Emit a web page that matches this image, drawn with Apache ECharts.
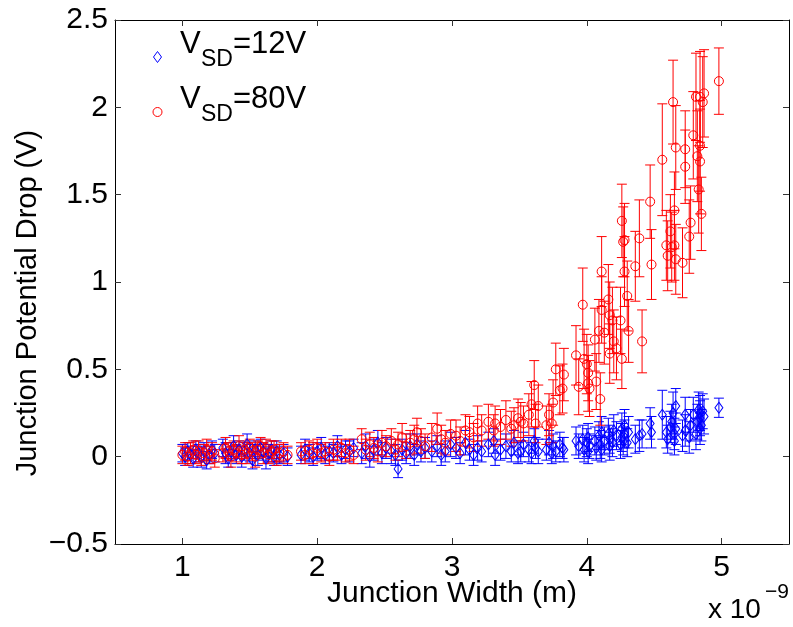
<!DOCTYPE html>
<html><head><meta charset="utf-8">
<script src="https://cdn.jsdelivr.net/npm/echarts@6/dist/echarts.min.js"></script>
<style>html,body{margin:0;padding:0;background:#fff}#c{width:793px;height:627px}</style>
</head><body><div id="c"></div>
<script>
// Junction width (x 1e-9 m), shared by both bias voltages
const width = [
  1.00,1.02,1.04,1.06,1.08,1.10,1.12,1.14,1.16,1.18,1.20,1.22,1.24,
  1.30,1.32,1.34,1.36,1.38,1.40,1.42,1.44,1.46,1.48,1.50,1.52,1.54,1.56,1.58,1.60,1.62,1.64,1.66,1.68,1.70,1.72,1.75,1.78,
  1.88,1.91,1.94,1.97,2.00,2.03,2.06,2.09,2.12,2.15,2.18,2.21,2.24,2.27,
  2.33,2.36,2.39,2.42,2.45,2.48,2.51,2.55,2.58,2.60,2.63,2.66,2.69,2.72,2.74,2.77,2.80,
  2.85,2.89,2.92,2.95,2.99,3.03,3.06,3.10,3.13,3.16,3.19,3.22,3.27,3.31,3.32,3.36,3.40,3.44,3.46,3.49,
  3.51,3.53,3.57,3.59,3.61,3.62,3.64,3.70,3.72,3.74,3.75,3.77,3.80,3.82,3.83,
  3.92,3.94,3.97,3.98,4.00,4.01,4.01,4.02,4.06,4.07,4.09,4.10,4.11,4.11,4.13,4.16,4.17,4.17,4.19,4.20,4.22,4.25,4.26,4.26,4.27,4.28,4.28,4.30,4.31,
  4.36,4.39,4.41,4.47,4.48,4.56,4.59,4.60,4.62,4.63,4.64,4.65,4.65,4.66,4.66,4.71,4.73,4.73,4.76,4.77,4.79,4.81,4.82,4.83,4.84,4.84,4.84,4.85,4.86,4.87,4.98
];
// V_SD = 12 V : potential drop (V) and error half-length (V)
const drop12 = [
  0.02,0.00,0.03,0.01,-0.01,0.04,0.02,0.00,0.03,-0.02,0.01,0.04,0.02,
  0.05,0.02,-0.01,0.03,0.06,0.01,0.04,0.00,0.03,0.07,0.02,-0.02,0.04,0.01,0.05,0.03,-0.01,0.02,0.04,0.00,0.03,0.01,0.02,0.00,
  0.01,0.04,0.02,0.00,0.03,0.05,0.01,0.03,0.02,0.06,0.01,0.04,0.03,0.05,
  0.02,0.06,0.00,0.04,0.08,0.02,0.05,0.03,0.01,-0.07,0.04,0.02,0.06,0.01,0.07,0.03,0.05,
  0.03,0.06,0.01,0.03,0.07,0.05,0.02,0.08,0.04,0.01,0.05,0.03,0.07,0.09,0.01,0.04,0.06,0.03,0.08,0.02,
  0.03,0.07,0.04,0.02,0.09,0.05,0.03,0.04,0.08,0.02,0.06,0.03,0.07,0.05,0.04,
  0.09,0.06,0.10,0.04,0.08,0.03,0.11,0.06,0.09,0.05,0.12,0.07,0.14,0.04,0.09,0.13,0.06,0.10,0.08,0.15,0.12,0.07,0.11,0.16,0.09,0.18,0.13,0.08,0.14,
  0.10,0.12,0.13,0.19,0.14,0.24,0.14,0.10,0.17,0.20,0.25,0.13,0.09,0.29,0.16,0.12,0.24,0.15,0.11,0.18,0.24,0.13,0.20,0.27,0.16,0.22,0.25,0.18,0.26,0.23,0.28
];
const err12 = [
  0.05,0.05,0.05,0.05,0.05,0.05,0.05,0.06,0.05,0.05,0.05,0.05,0.05,
  0.05,0.06,0.05,0.05,0.06,0.05,0.05,0.06,0.05,0.06,0.05,0.05,0.05,0.06,0.05,0.05,0.06,0.05,0.05,0.05,0.06,0.05,0.05,0.05,
  0.05,0.06,0.05,0.05,0.05,0.06,0.05,0.05,0.05,0.06,0.05,0.05,0.06,0.05,
  0.06,0.07,0.06,0.06,0.07,0.06,0.06,0.07,0.06,0.05,0.06,0.06,0.07,0.06,0.06,0.06,0.06,
  0.06,0.06,0.06,0.06,0.07,0.06,0.06,0.07,0.06,0.06,0.07,0.06,0.07,0.07,0.06,0.06,0.07,0.06,0.07,0.06,
  0.06,0.07,0.07,0.06,0.07,0.06,0.07,0.06,0.07,0.06,0.07,0.06,0.07,0.06,0.07,
  0.08,0.07,0.08,0.07,0.08,0.07,0.08,0.07,0.08,0.07,0.08,0.08,0.09,0.07,0.08,0.09,0.08,0.08,0.08,0.09,0.08,0.08,0.08,0.09,0.08,0.09,0.08,0.08,0.09,
  0.08,0.09,0.08,0.09,0.09,0.14,0.09,0.08,0.09,0.10,0.12,0.09,0.08,0.10,0.09,0.09,0.10,0.09,0.09,0.09,0.10,0.09,0.10,0.10,0.09,0.10,0.10,0.09,0.10,0.10,0.055
];
// V_SD = 80 V : potential drop (V) and error half-length (V)
const drop80 = [
  0.01,0.03,0.00,0.02,0.04,0.01,0.03,0.00,0.02,0.04,0.01,0.03,-0.01,
  0.02,0.05,0.03,0.00,0.04,0.02,0.06,0.01,0.04,0.02,0.05,0.03,0.00,0.04,0.06,0.02,0.05,0.01,0.03,0.04,0.00,0.02,0.03,0.01,
  0.03,0.01,0.04,0.02,0.05,0.02,0.03,0.00,0.04,0.03,0.05,0.02,0.04,0.01,
  0.10,0.04,0.07,0.05,0.03,0.08,0.06,0.09,0.04,0.07,0.11,0.06,0.08,0.10,0.14,0.09,0.06,
  0.11,0.16,0.10,0.08,0.13,0.12,0.09,0.15,0.14,0.11,0.19,0.15,0.20,0.15,0.19,0.17,0.21,0.16,0.18,0.22,
  0.20,0.19,0.24,0.30,0.41,0.19,0.29,0.18,0.24,0.19,0.31,0.50,0.38,0.39,0.47,
  0.58,0.40,0.87,0.56,0.53,0.48,0.42,0.39,0.67,0.43,0.72,0.33,1.06,0.84,0.71,0.90,0.81,0.59,0.78,0.66,0.62,0.78,1.35,0.56,1.23,1.06,1.24,0.92,0.72,
  1.09,1.25,0.66,1.46,1.10,1.70,1.21,1.15,1.29,1.20,2.03,1.41,1.21,1.77,1.13,1.11,1.76,1.66,1.26,1.34,1.84,2.06,1.72,1.53,2.06,1.78,1.69,1.39,2.03,2.08,2.15
];
const err80 = [
  0.05,0.05,0.05,0.06,0.05,0.05,0.06,0.05,0.05,0.06,0.05,0.05,0.05,
  0.05,0.06,0.05,0.06,0.05,0.05,0.06,0.05,0.05,0.06,0.05,0.05,0.06,0.05,0.05,0.06,0.05,0.05,0.06,0.05,0.05,0.05,0.05,0.05,
  0.05,0.05,0.05,0.06,0.05,0.05,0.05,0.05,0.06,0.05,0.05,0.05,0.06,0.05,
  0.06,0.06,0.07,0.06,0.06,0.07,0.06,0.07,0.06,0.07,0.08,0.07,0.07,0.08,0.08,0.07,0.07,
  0.08,0.09,0.08,0.07,0.08,0.09,0.08,0.09,0.09,0.08,0.10,0.09,0.10,0.09,0.10,0.10,0.11,0.10,0.10,0.11,
  0.11,0.10,0.12,0.13,0.14,0.11,0.12,0.11,0.12,0.11,0.13,0.15,0.14,0.14,0.15,
  0.17,0.16,0.21,0.17,0.17,0.16,0.16,0.16,0.18,0.16,0.18,0.15,0.20,0.19,0.18,0.20,0.19,0.17,0.19,0.18,0.18,0.19,0.21,0.17,0.20,0.20,0.21,0.20,0.18,
  0.20,0.22,0.18,0.21,0.20,0.32,0.20,0.20,0.21,0.20,0.24,0.22,0.20,0.24,0.20,0.20,0.22,0.21,0.21,0.21,0.25,0.25,0.26,0.25,0.26,0.26,0.30,0.21,0.26,0.25,0.19
];
const xTicks = [1, 2, 3, 4, 5];
const seriesNames = ['V_SD=12V', 'V_SD=80V'];
const legendValues = ['=12V', '=80V'];
const yTitle = 'Junction Potential Drop (V)';
const xTitle = 'Junction Width (m)';

const FONT = '"Liberation Sans", Arial, Helvetica, sans-serif';
const BLUE = '#0000ff', RED = '#ff0000';

function rows(y, e) { return width.map((w, i) => [w, y[i], e[i]]); }
function errorRender(color) {
  return function (params, api) {
    const x = api.value(0), y = api.value(1), e = api.value(2);
    const t = api.coord([x, y + e]), b = api.coord([x, y - e]);
    const c = 5;
    const style = { stroke: color, lineWidth: 1, fill: null };
    return { type: 'group', children: [
      { type: 'line', shape: { x1: t[0], y1: t[1], x2: b[0], y2: b[1] }, style },
      { type: 'line', shape: { x1: t[0] - c, y1: t[1], x2: t[0] + c, y2: t[1] }, style },
      { type: 'line', shape: { x1: b[0] - c, y1: b[1], x2: b[0] + c, y2: b[1] }, style }
    ]};
  };
}
const fmtY = v => (v < 0 ? '\u2212' + Math.abs(v) : String(v));

// legend drawn as graphic: V with subscript SD, then value
function legendRow(i, marker) {
  const dy = i * 55;
  const txt = (t, x, y, size) => ({ type: 'text', x: x, y: y + dy,
    style: { text: t, font: size + 'px ' + FONT, fill: '#000', align: 'left', verticalAlign: 'middle' } });
  return [marker, txt('V', 180, 44, 31), txt('SD', 201, 60, 23), txt(legendValues[i], 233, 44, 31)];
}

const axisCommon = {
  axisLine: { show: true, onZero: false, lineStyle: { color: '#000', width: 1 } },
  splitLine: { show: false }
};

const chart = echarts.init(document.getElementById('c'), null, { renderer: 'canvas' });
chart.setOption({
  animation: false,
  backgroundColor: '#fff',
  grid: { left: 115, right: 4, top: 20, bottom: 83, containLabel: false },
  xAxis: [
    Object.assign({}, axisCommon, {
      type: 'value', min: 0.5, max: 5.5, position: 'bottom',
      axisTick: { show: true, inside: true, length: 6, customValues: xTicks, lineStyle: { color: '#333' } },
      axisLabel: { customValues: xTicks, fontSize: 30, color: '#000', fontFamily: FONT, margin: 9 },
      name: xTitle, nameLocation: 'middle', nameGap: 35, nameMoveOverlap: false,
      nameTextStyle: { fontSize: 30, color: '#000', fontFamily: FONT }
    }),
    Object.assign({}, axisCommon, {
      type: 'value', min: 0.5, max: 5.5, position: 'top',
      axisTick: { show: true, inside: true, length: 6, customValues: xTicks, lineStyle: { color: '#333' } },
      axisLabel: { show: false }
    })
  ],
  yAxis: [
    Object.assign({}, axisCommon, {
      type: 'value', min: -0.5, max: 2.5, interval: 0.5, position: 'left',
      axisTick: { show: true, inside: true, length: 6, lineStyle: { color: '#333' } },
      axisLabel: { fontSize: 30, color: '#000', fontFamily: FONT, margin: 7, formatter: fmtY }
    }),
    Object.assign({}, axisCommon, {
      type: 'value', min: -0.5, max: 2.5, interval: 0.5, position: 'right',
      axisTick: { show: true, inside: true, length: 6, lineStyle: { color: '#333' } },
      axisLabel: { show: false }
    })
  ],
  graphic: [
    { type: 'text', x: 28, y: 303, rotation: Math.PI / 2,
      style: { text: yTitle, font: '29px ' + FONT, fill: '#000', align: 'center', verticalAlign: 'middle' } },
    { type: 'text', left: 708, top: 596, style: { text: 'x 10', font: '28px ' + FONT, fill: '#000' } },
    { type: 'text', left: 765, top: 582, style: { text: '\u22129', font: '21px ' + FONT, fill: '#000' } }
  ].concat(
    legendRow(0, { type: 'polygon', shape: { points: [[157.5, 51.5], [161.5, 57], [157.5, 62.5], [153.5, 57]] },
      style: { fill: 'none', stroke: BLUE, lineWidth: 1 } }),
    legendRow(1, { type: 'circle', shape: { cx: 157.5, cy: 112, r: 4.5 },
      style: { fill: 'none', stroke: RED, lineWidth: 1 } })
  ),
  series: [
    { name: 'err12', type: 'custom', renderItem: errorRender(BLUE), data: rows(drop12, err12),
      encode: { x: 0, y: 1 }, z: 2, silent: true },
    { name: seriesNames[0], type: 'scatter', data: rows(drop12, err12), symbol: 'diamond', symbolSize: [8, 11],
      encode: { x: 0, y: 1 },
      itemStyle: { color: 'rgba(0,0,0,0)', borderColor: BLUE, borderWidth: 1, opacity: 1 }, z: 2 },
    { name: 'err80', type: 'custom', renderItem: errorRender(RED), data: rows(drop80, err80),
      encode: { x: 0, y: 1 }, z: 2, silent: true },
    { name: seriesNames[1], type: 'scatter', data: rows(drop80, err80), symbol: 'circle', symbolSize: 9,
      encode: { x: 0, y: 1 },
      itemStyle: { color: 'rgba(0,0,0,0)', borderColor: RED, borderWidth: 1, opacity: 1 }, z: 2 }
  ]
});
</script></body></html>
